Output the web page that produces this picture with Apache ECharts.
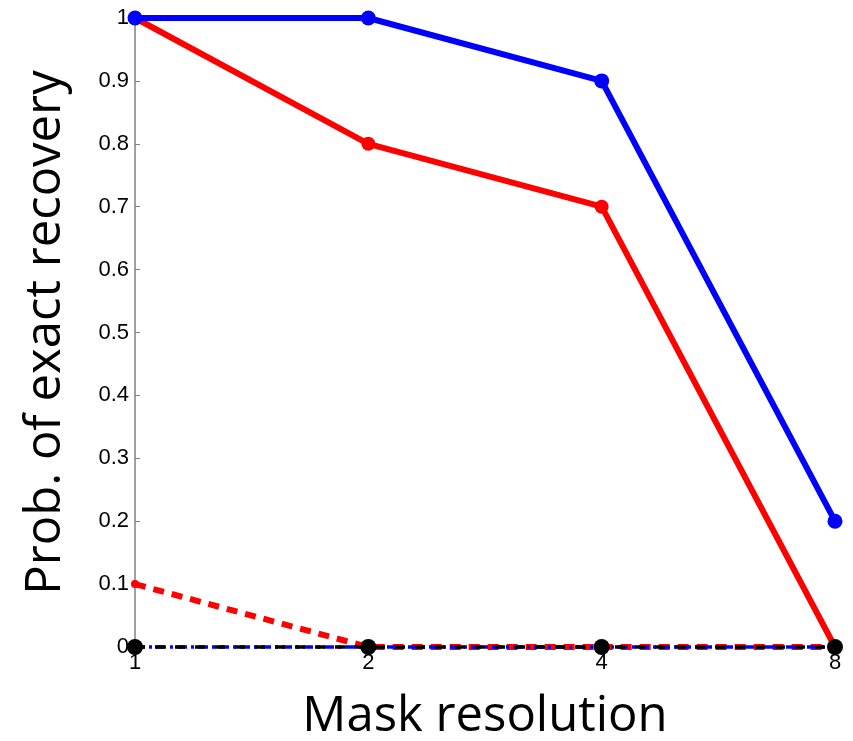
<!DOCTYPE html>
<html>
<head>
<meta charset="utf-8">
<script src="https://cdn.jsdelivr.net/npm/echarts@6/dist/echarts.min.js"></script>
<style>html,body{margin:0;padding:0;background:#fff;}#c{width:853px;height:741px;}</style>
</head>
<body>
<div id="c"></div>
<script>
var categories = ['1', '2', '4', '8'];
var blueSolid = [1, 1, 0.9, 0.2];
var redSolid = [1, 0.8, 0.7, 0];
var redDashed = [0.1, 0, 0, 0];
var blueDashDot = [0, 0, 0, 0];
var blackDashed = [0, 0, 0, 0];
var xTitle = 'Mask resolution';
var yTitle = 'Prob. of exact recovery';

var chart = echarts.init(document.getElementById('c'));
chart.setOption({
  animation: false,
  backgroundColor: '#fff',
  grid: {left: 135, right: 18, top: 18, bottom: 94, containLabel: false, outerBoundsMode: 'none'},
  xAxis: {
    type: 'category', data: categories, boundaryGap: false,
    axisLine: {show: false}, axisTick: {show: false}, splitLine: {show: false},
    axisLabel: {color: '#000', fontFamily: 'Liberation Sans', fontSize: 22, margin: 5},
    name: xTitle, nameLocation: 'middle', nameGap: 46,
    nameTextStyle: {fontFamily: 'Open Sans', fontSize: 49, color: '#000'}
  },
  yAxis: {
    type: 'value', min: 0, max: 1, interval: 0.1,
    axisLine: {show: true, lineStyle: {color: '#808080', width: 1.5}},
    axisTick: {show: true, inside: true, length: 5, lineStyle: {color: '#808080'}},
    splitLine: {show: false},
    axisLabel: {color: '#000', fontFamily: 'Liberation Sans', fontSize: 22, margin: 6,
      formatter: function (v) { return String(Math.round(v * 10) / 10); }},
    name: yTitle, nameLocation: 'middle', nameGap: 64,
    nameTextStyle: {fontFamily: 'Open Sans', fontSize: 49, color: '#000'}
  },
  series: [
    {type: 'line', data: blueSolid, clip: false, symbol: 'circle', symbolSize: 15,
      lineStyle: {color: '#0000ff', width: 6}, itemStyle: {color: '#0000ff'}, z: 3},
    {type: 'line', data: redSolid, clip: false, symbol: 'circle', symbolSize: 14,
      lineStyle: {color: '#ff0000', width: 6}, itemStyle: {color: '#ff0000'}, z: 2},
    {type: 'line', data: redDashed, clip: false, symbol: 'circle', symbolSize: 8,
      lineStyle: {color: '#ff0000', width: 6, type: [11, 8]}, itemStyle: {color: '#ff0000'}, z: 2},
    {type: 'line', data: blueDashDot, clip: false, symbol: 'none',
      lineStyle: {color: '#0000ff', width: 3.5, type: [10, 4, 3, 4]}, z: 3},
    {type: 'line', data: blackDashed, clip: false, symbol: 'circle', symbolSize: 16,
      lineStyle: {color: '#000000', width: 3.5, type: [10, 10]}, itemStyle: {color: '#000000'}, z: 4}
  ]
});
</script>
</body>
</html>
